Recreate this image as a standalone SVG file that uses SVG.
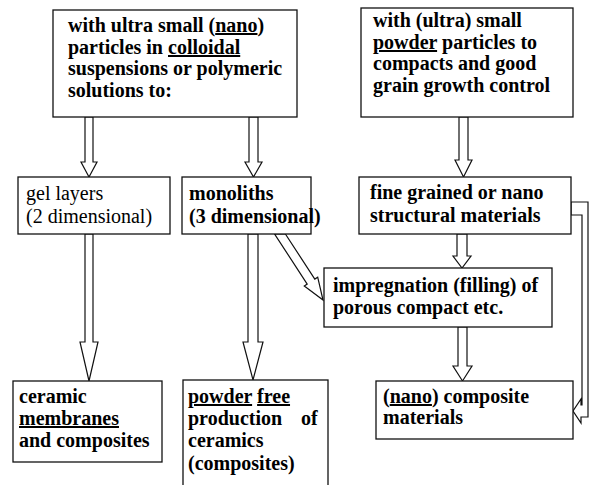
<svg xmlns="http://www.w3.org/2000/svg" width="590" height="485" viewBox="0 0 590 485">
<rect width="590" height="485" fill="#fff"/>
<g id="connectors" fill="#fff" stroke="#111" stroke-width="1.2">
<polygon points="85,117 93,117 93,162 97,162 89,177 81,162 85,162"/>
<polygon points="249,117 258,117 258,162 262,162 253.5,177 245,162 249,162"/>
<polygon points="459,117 468,117 468,160 472,160 463.5,177 455,160 459,160"/>
<polygon points="85,234 93,234 93,342 98,342 89,381 80,342 85,342"/>
<polygon points="248,234 258,234 258,342 263,342 253,380 243,342 248,342"/>
<polygon points="457,234 467,234 467,256 471,256 462,268 453,256 457,256"/>
<polygon points="458,327 467,327 467,366 472,366 462.5,381 453,366 458,366"/>
<polygon points="285.4,234 314.8,279.1 317.7,277.2 323,300 304.3,286 307.2,284.1 274.6,234"/>
<polygon points="571,202 588,202 588,417 581,417 581,423 573,411 581,399 581,405 582,405 582,215 571,215"/>
</g>
<g id="n1">
<rect x="53" y="10" width="244" height="107" fill="#fff" stroke="#111" stroke-width="1.3"/>
<text x="68" y="32" font-family="Times New Roman" font-size="20" font-weight="bold">with ultra small (<tspan text-decoration="underline">nano</tspan>)</text>
<text x="68" y="54" font-family="Times New Roman" font-size="20" font-weight="bold">particles in <tspan text-decoration="underline">colloidal</tspan></text>
<text x="68" y="75" font-family="Times New Roman" font-size="20" font-weight="bold">suspensions or polymeric</text>
<text x="68" y="97" font-family="Times New Roman" font-size="20" font-weight="bold">solutions to:</text>
</g>
<g id="n2">
<rect x="361" y="8" width="212" height="109" fill="#fff" stroke="#111" stroke-width="1.3"/>
<text x="373" y="27" font-family="serif" font-size="20" font-weight="bold">with (ultra) small</text>
<text x="373" y="49" font-family="serif" font-size="20" font-weight="bold"><tspan text-decoration="underline">powder</tspan> particles to</text>
<text x="373" y="70" font-family="serif" font-size="20" font-weight="bold">compacts and good</text>
<text x="373" y="92" font-family="serif" font-size="20" font-weight="bold">grain growth  control</text>
</g>
<g id="n3">
<rect x="18" y="177" width="152" height="57" fill="#fff" stroke="#111" stroke-width="1.3"/>
<text x="26" y="200" font-family="Liberation Serif" font-size="20">gel layers</text>
<text x="26" y="223" font-family="Liberation Serif" font-size="20">(2 dimensional)</text>
</g>
<g id="n4">
<rect x="182" y="177" width="129" height="57" fill="#fff" stroke="#111" stroke-width="1.3"/>
<text x="189" y="200" font-family="Liberation Serif" font-size="20" font-weight="bold">monoliths</text>
<text x="189" y="223" font-family="Liberation Serif" font-size="20" font-weight="bold">(3 dimensional)</text>
</g>
<g id="n5">
<rect x="359" y="177" width="212" height="57" fill="#fff" stroke="#111" stroke-width="1.3"/>
<text x="370" y="199" font-family="Liberation Serif" font-size="20" font-weight="bold">fine grained or nano</text>
<text x="370" y="222" font-family="Liberation Serif" font-size="20" font-weight="bold">structural materials</text>
</g>
<g id="n6">
<rect x="324" y="268" width="228" height="59" fill="#fff" stroke="#111" stroke-width="1.3"/>
<text x="333" y="292" font-family="Liberation Serif" font-size="20" font-weight="bold">impregnation (filling) of</text>
<text x="333" y="314" font-family="Liberation Serif" font-size="20" font-weight="bold">porous compact etc.</text>
</g>
<g id="n7">
<rect x="13" y="381" width="149" height="81" fill="#fff" stroke="#111" stroke-width="1.3"/>
<text x="19" y="403" font-family="Liberation Serif" font-size="20" font-weight="bold">ceramic</text>
<text x="19" y="425" font-family="Liberation Serif" font-size="20" font-weight="bold"><tspan text-decoration="underline">membranes</tspan></text>
<text x="19" y="447" font-family="Liberation Serif" font-size="20" font-weight="bold">and composites</text>
</g>
<g id="n8">
<rect x="183" y="380" width="145" height="110" fill="#fff" stroke="#111" stroke-width="1.3"/>
<text x="188" y="403" font-family="Liberation Serif" font-size="20" font-weight="bold"><tspan text-decoration="underline">powder</tspan> <tspan text-decoration="underline">free</tspan></text>
<text x="188" y="425" font-family="Liberation Serif" font-size="20" font-weight="bold">production</text>
<text x="301" y="425" font-family="Liberation Serif" font-size="20" font-weight="bold">of</text>
<text x="188" y="447" font-family="Liberation Serif" font-size="20" font-weight="bold">ceramics</text>
<text x="188" y="470" font-family="Liberation Serif" font-size="20" font-weight="bold">(composites)</text>
</g>
<g id="n9">
<rect x="376" y="381" width="197" height="58" fill="#fff" stroke="#111" stroke-width="1.3"/>
<text x="383" y="403" font-family="Liberation Serif" font-size="20" font-weight="bold">(<tspan text-decoration="underline">nano</tspan>) composite</text>
<text x="383" y="424" font-family="Liberation Serif" font-size="20" font-weight="bold">materials</text>
</g>
</svg>
